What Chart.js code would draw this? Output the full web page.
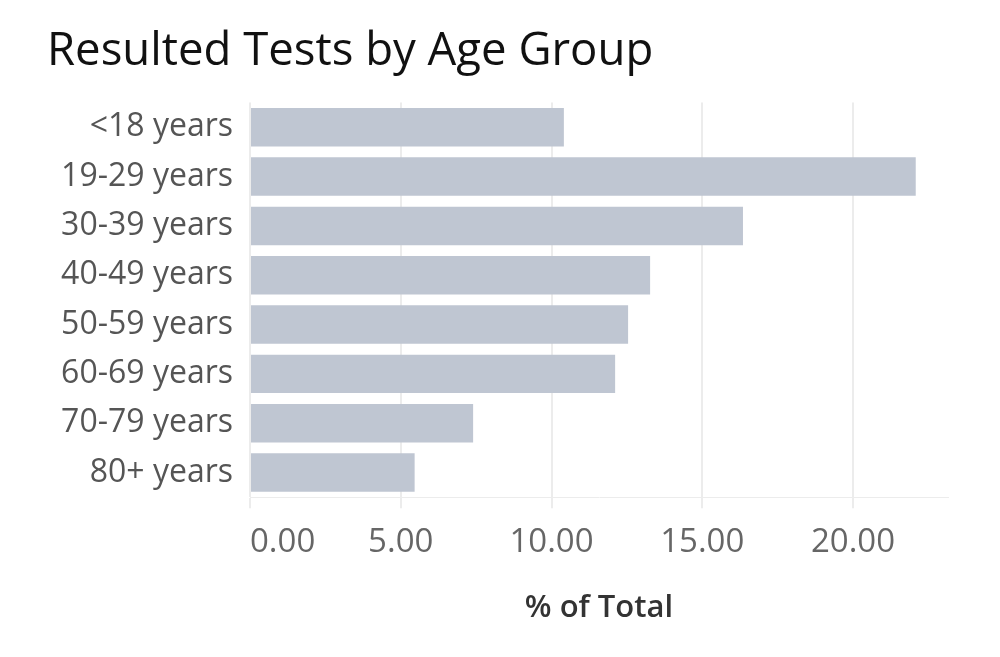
<!DOCTYPE html>
<html>
<head>
<meta charset="utf-8">
<script src="https://cdn.jsdelivr.net/npm/chart.js@4.4.0/dist/chart.umd.min.js"></script>
<style>
  html, body { margin: 0; padding: 0; background: #fff; }
  #wrap { width: 1000px; height: 657px; }
</style>
</head>
<body>
<div id="wrap"><canvas id="ageChart" width="1000" height="657"></canvas></div>
<script>
// data
const ageGroups = ['<18 years', '19-29 years', '30-39 years', '40-49 years', '50-59 years', '60-69 years', '70-79 years', '80+ years'];
const pctOfTotal = [10.41, 22.08, 16.35, 13.27, 12.54, 12.11, 7.40, 5.46];
const xTicks = [0, 5, 10, 15, 20];
const xMax = 23.15;

const fontFamily = "'Open Sans', Lato, sans-serif";

// first x label sits left-aligned at the zero line, like the original
const firstTickLeft = {
    id: 'firstTickLeft',
    beforeDraw(chart) {
        const items = chart.scales.x.getLabelItems();
        if (items.length) {
            items[0].options.textAlign = 'left';
        }
    }
};

const ctx = document.getElementById('ageChart').getContext('2d');
new Chart(ctx, {
    type: 'bar',
    data: {
        labels: ageGroups,
        datasets: [{
            data: pctOfTotal,
            backgroundColor: '#bfc6d2',
            borderWidth: 0,
            barPercentage: 0.78,
            categoryPercentage: 1
        }]
    },
    options: {
        indexAxis: 'y',
        responsive: false,
        animation: false,
        layout: { padding: { left: 47, right: 52, top: 25, bottom: 26 } },
        plugins: {
            legend: { display: false },
            tooltip: { enabled: false },
            title: {
                display: true,
                text: 'Resulted Tests by Age Group',
                align: 'start',
                color: '#111',
                font: { family: fontFamily, size: 45.5, weight: 'normal' },
                padding: { top: 0, bottom: 23 }
            }
        },
        scales: {
            x: {
                min: 0,
                max: xMax,
                afterBuildTicks(scale) {
                    scale.ticks = xTicks.map(v => ({ value: v }));
                },
                grid: { color: '#ececec', lineWidth: 2, tickLength: 11 },
                border: { color: '#ececec', width: 1 },
                ticks: {
                    color: '#666',
                    padding: 15,
                    font: { family: fontFamily, size: 33 },
                    callback: v => v.toFixed(2)
                },
                title: {
                    display: true,
                    text: '% of Total',
                    color: '#333',
                    font: { family: fontFamily, size: 31, weight: '600' },
                    padding: { top: 12, bottom: 4 }
                }
            },
            y: {
                afterFit(scale) { scale.width = 203; },
                grid: { display: false, drawTicks: false },
                border: { display: false },
                ticks: {
                    color: '#555',
                    padding: 17,
                    font: { family: fontFamily, size: 32 }
                }
            }
        }
    },
    plugins: [firstTickLeft]
});
</script>
</body>
</html>
